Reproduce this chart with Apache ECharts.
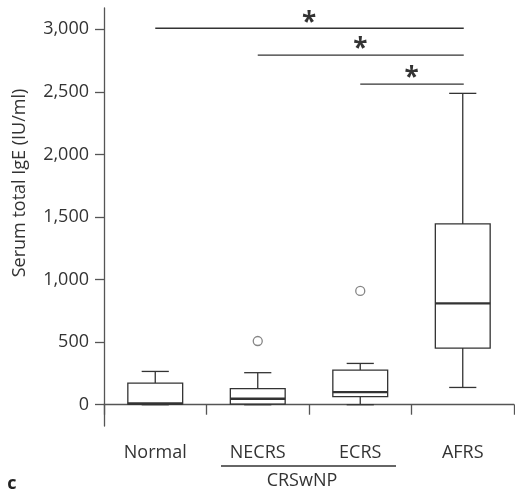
<!DOCTYPE html>
<html>
<head>
    <meta charset="utf-8">
    <title>Serum total IgE</title>
    <script src="https://cdn.jsdelivr.net/npm/echarts@6/dist/echarts.min.js"></script>
    <style>
        html, body { margin: 0; padding: 0; background: #fff; }
        #main { width: 515px; height: 493px; }
    </style>
</head>
<body>
    <div id="main"></div>
    <script>
        // groups and box statistics
        var categories = ['Normal', 'NECRS', 'ECRS', 'AFRS'];
        var whiskerLow = [0, 0, 0, 138];
        var q1 = [5, 5, 64, 453];
        var median = [10, 48, 101, 810];
        var q3 = [173, 128, 277, 1445];
        var whiskerHigh = [266, 256, 330, 2488];
        var outliers = [[1, 509], [2, 909]];
        // significance brackets: from group, to group, height
        var brackets = [[0, 3, 3008], [1, 3, 2794], [2, 3, 2562]];
        var yTicks = [0, 500, 1000, 1500, 2000, 2500, 3000];

        var FONT = '"Open Sans", "Noto Sans", sans-serif';
        var INK = '#333';
        var AXIS = '#555';

        var boxData = [];
        for (var i = 0; i < categories.length; i++) {
            boxData.push([i, whiskerLow[i], q1[i], median[i], q3[i], whiskerHigh[i]]);
        }

        function renderBox(params, api) {
            var x = api.value(0);
            var lo = api.coord([x, api.value(1)]);
            var b1 = api.coord([x, api.value(2)]);
            var md = api.coord([x, api.value(3)]);
            var b3 = api.coord([x, api.value(4)]);
            var hi = api.coord([x, api.value(5)]);
            var band = api.size([1, 0])[0];
            var bw = band * 0.535 / 2;
            var cw = band * 0.265 / 2;
            var cx = lo[0];
            var st = { stroke: INK, lineWidth: 1.3, fill: null };
            var thick = { stroke: INK, lineWidth: 2.4, fill: null };
            return {
                type: 'group',
                children: [
                    { type: 'line', shape: { x1: cx, y1: hi[1], x2: cx, y2: b3[1] }, style: st },
                    { type: 'line', shape: { x1: cx - cw, y1: hi[1], x2: cx + cw, y2: hi[1] }, style: st },
                    { type: 'line', shape: { x1: cx, y1: lo[1], x2: cx, y2: b1[1] }, style: st },
                    { type: 'line', shape: { x1: cx - cw, y1: lo[1], x2: cx + cw, y2: lo[1] }, style: st },
                    { type: 'rect', shape: { x: cx - bw, y: b3[1], width: bw * 2, height: b1[1] - b3[1] }, style: st },
                    { type: 'line', shape: { x1: cx - bw, y1: md[1], x2: cx + bw, y2: md[1] }, style: thick }
                ]
            };
        }

        function renderBracket(params, api) {
            var a = api.coord([api.value(0), api.value(2)]);
            var b = api.coord([api.value(1), api.value(2)]);
            return {
                type: 'group',
                children: [
                    { type: 'line', shape: { x1: a[0], y1: a[1], x2: b[0] + 1, y2: b[1] },
                      style: { stroke: INK, lineWidth: 1.3 } },
                    { type: 'text', x: (a[0] + b[0]) / 2, y: a[1] - 5,
                      style: { text: '*', fill: INK, font: 'bold 26px ' + FONT,
                               textAlign: 'center', textVerticalAlign: 'middle' } }
                ]
            };
        }

        var chart = echarts.init(document.getElementById('main'));
        chart.setOption({
            backgroundColor: '#fff',
            animation: false,
            grid: { left: 104, right: 1, top: 8, bottom: 67 },
            xAxis: {
                type: 'category',
                data: categories,
                boundaryGap: true,
                axisLine: { lineStyle: { color: AXIS, width: 1.3 } },
                axisTick: { show: true, length: 10, lineStyle: { color: AXIS, width: 1.3 } },
                axisLabel: { color: INK, fontSize: 18, fontFamily: FONT, margin: 18 },
                splitLine: { show: false }
            },
            yAxis: {
                type: 'value',
                min: -170,
                max: 3170,
                axisLine: { show: true, lineStyle: { color: AXIS, width: 1.3 } },
                axisTick: { show: true, length: 9, customValues: yTicks, lineStyle: { color: AXIS, width: 1.3 } },
                axisLabel: {
                    color: INK, fontSize: 18, fontFamily: FONT, margin: 15,
                    customValues: yTicks,
                    formatter: function (v) { return v.toLocaleString('en-US'); }
                },
                splitLine: { show: false }
            },
            graphic: [
                { type: 'text', x: 20, y: 183, rotation: Math.PI / 2,
                  style: { text: 'Serum total IgE (IU/ml)', fill: INK, font: '18px ' + FONT,
                           textAlign: 'center', textVerticalAlign: 'middle' } },
                { type: 'line', shape: { x1: 221, y1: 466, x2: 396, y2: 466 },
                  style: { stroke: INK, lineWidth: 1.3 } },
                { type: 'text', x: 302, y: 481,
                  style: { text: 'CRSwNP', fill: INK, font: '18px ' + FONT,
                           textAlign: 'center', textVerticalAlign: 'middle' } },
                { type: 'text', x: 12, y: 484,
                  style: { text: 'c', fill: '#222', font: 'bold 18px ' + FONT,
                           textAlign: 'center', textVerticalAlign: 'middle' } }
            ],
            series: [
                {
                    type: 'custom',
                    name: 'box',
                    renderItem: renderBox,
                    encode: { x: 0, y: [1, 2, 3, 4, 5] },
                    data: boxData,
                    z: 3
                },
                {
                    type: 'scatter',
                    name: 'outlier',
                    data: outliers,
                    symbol: 'circle',
                    symbolSize: 9,
                    itemStyle: { color: '#fff', borderColor: '#666', borderWidth: 1.3 },
                    z: 4
                },
                {
                    type: 'custom',
                    name: 'significance',
                    renderItem: renderBracket,
                    encode: { x: [0, 1], y: 2 },
                    data: brackets,
                    z: 5
                }
            ]
        });
    </script>
</body>
</html>
